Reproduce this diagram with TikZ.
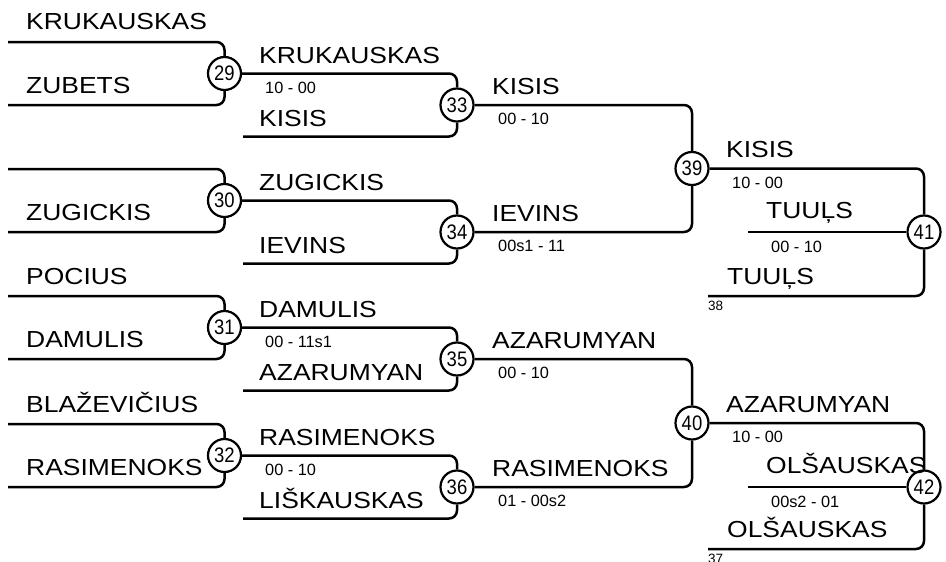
\documentclass[tikz,border=0pt]{standalone}
\usepackage{fontspec}
\setmainfont{Liberation Sans}[FakeStretch=1.14]
\newfontfamily\numfont{Liberation Sans}
\newfontfamily\gamefont{Liberation Sans}[FakeStretch=0.88]
\usepackage{tikz}
\usetikzlibrary{positioning,calc}

\begin{document}
\begin{tikzpicture}[
    x=1pt, y=-1pt,
    player/.style={anchor=base west, inner sep=0pt, font=\fontsize{23.2}{25}\selectfont},
    score/.style={anchor=base west, inner sep=0pt, font=\numfont\fontsize{16.3}{18}\selectfont},
    seed/.style={anchor=base west, inner sep=0pt, font=\numfont\fontsize{13.5}{15}\selectfont},
    game/.style={circle, draw, line width=2.2pt, fill=white, minimum size=33pt, inner sep=0pt, font=\gamefont\fontsize{21}{22}\selectfont},
    bracket/.style={line width=2.5pt, rounded corners=8pt}
]
\useasboundingbox (0,0) rectangle (946,562);

% Round 1
\node[game] (g29) at (224.5, 73.5) {29};
\node[game] (g30) at (224.5, 200.5) {30};
\node[game] (g31) at (224.5, 327.5) {31};
\node[game] (g32) at (224.5, 455.5) {32};
\coordinate (a29) at (8, 42);  \coordinate (b29) at (8, 105);
\coordinate (a30) at (8, 169); \coordinate (b30) at (8, 232);
\coordinate (a31) at (8, 296); \coordinate (b31) at (8, 359);
\coordinate (a32) at (8, 424); \coordinate (b32) at (8, 487);
\draw[bracket] (a29) -| (g29.north);  \draw[bracket] (b29) -| (g29.south);
\draw[bracket] (a30) -| (g30.north);  \draw[bracket] (b30) -| (g30.south);
\draw[bracket] (a31) -| (g31.north);  \draw[bracket] (b31) -| (g31.south);
\draw[bracket] (a32) -| (g32.north);  \draw[bracket] (b32) -| (g32.south);
\node[player] (n1) at (26, 30) {KRUKAUSKAS};
\node[player] (n2) at (26, 93) {ZUBETS};
\node[player] (n4) at (26, 220) {ZUGICKIS};
\node[player] (n5) at (26, 284) {POCIUS};
\node[player] (n6) at (26, 347) {DAMULIS};
\node[player] (n7) at (26, 412) {BLAŽEVIČIUS};
\node[player] (n8) at (26, 475) {RASIMENOKS};

% Round 2
\node[game] (g33) at (457, 105) {33};
\node[game] (g34) at (457, 232) {34};
\node[game] (g35) at (457, 359) {35};
\node[game] (g36) at (457, 487) {36};
\coordinate (b33) at (243, 136.5);
\coordinate (b34) at (243, 263.5);
\coordinate (b35) at (243, 390.5);
\coordinate (b36) at (243, 518.5);
\draw[bracket] (g29.east) -| (g33.north);  \draw[bracket] (b33) -| (g33.south);
\draw[bracket] (g30.east) -| (g34.north);  \draw[bracket] (b34) -| (g34.south);
\draw[bracket] (g31.east) -| (g35.north);  \draw[bracket] (b35) -| (g35.south);
\draw[bracket] (g32.east) -| (g36.north);  \draw[bracket] (b36) -| (g36.south);
\node[player] (w29) at (259, 63) {KRUKAUSKAS};
\node[score] at (265, 93.5) {10 - 00};
\node[player] (n33) at (259, 126) {KISIS};
\node[player] (w30) at (259, 190) {ZUGICKIS};
\node[player] (n34) at (259, 253) {IEVINS};
\node[player] (w31) at (259, 317) {DAMULIS};
\node[score] at (265, 347.5) {00 - 11s1};
\node[player] (n35) at (259, 380) {AZARUMYAN};
\node[player] (w32) at (259, 445) {RASIMENOKS};
\node[score] at (265, 475.5) {00 - 10};
\node[player] (n36) at (259, 508) {LIŠKAUSKAS};

% Round 3
\node[game] (g39) at (692, 168.5) {39};
\node[game] (g40) at (692, 423) {40};
\draw[bracket] (g33.east) -| (g39.north);  \draw[bracket] (g34.east) -| (g39.south);
\draw[bracket] (g35.east) -| (g40.north);  \draw[bracket] (g36.east) -| (g40.south);
\node[player] (w33) at (492, 94) {KISIS};
\node[score] at (498, 124) {00 - 10};
\node[player] (w34) at (492, 221) {IEVINS};
\node[score] at (498, 251) {00s1 - 11};
\node[player] (w35) at (492, 348) {AZARUMYAN};
\node[score] at (498, 378) {00 - 10};
\node[player] (w36) at (492, 476) {RASIMENOKS};
\node[score] at (498, 506) {01 - 00s2};

% Round 4
\node[game] (g41) at (924, 232) {41};
\node[game] (g42) at (924, 487) {42};
\coordinate (c41) at (748, 232); \coordinate (d41) at (708, 296);
\coordinate (c42) at (748, 487); \coordinate (d42) at (708, 549);
\draw[bracket] (g39.east) -| (g41.north);
\draw[bracket] (c41) -- (g41.west);
\draw[bracket] (d41) -| (g41.south);
\draw[bracket] (g40.east) -| (g42.north);
\draw[bracket] (c42) -- (g42.west);
\draw[bracket] (d42) -| (g42.south);
\node[player] (w39) at (726, 157.5) {KISIS};
\node[score] at (732, 188) {10 - 00};
\node[player] (m41) at (766, 218) {TUUĻS};
\node[score] at (771, 252) {00 - 10};
\node[player] (l41) at (727, 284) {TUUĻS};
\node[seed] at (708, 310) {38};
\node[player] (w40) at (726, 412) {AZARUMYAN};
\node[score] at (732, 442) {10 - 00};
\node[player] (m42) at (766, 473) {OLŠAUSKAS};
\node[score] at (771, 507) {00s2 - 01};
\node[player] (l42) at (727, 537) {OLŠAUSKAS};
\node[seed] at (708, 563) {37};

\end{tikzpicture}
\end{document}
